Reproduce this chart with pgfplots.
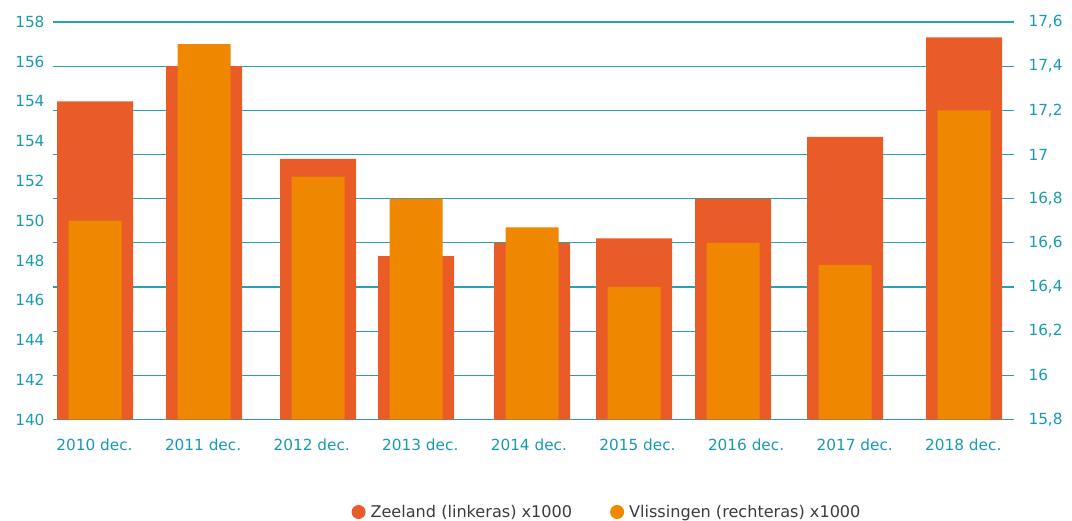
\documentclass[border=0pt]{standalone}
\usepackage{fontspec}
\setmainfont{DejaVu Sans}
\usepackage{pgfplots}
\pgfplotsset{compat=1.18}

\definecolor{zeel}{RGB}{233,91,39}
\definecolor{vlis}{RGB}{240,135,0}
\definecolor{tealtxt}{RGB}{24,154,176}
\definecolor{gridc}{RGB}{40,160,182}
\definecolor{legtxt}{RGB}{60,60,60}

% x positions: bar centres, as placed in the original (not evenly spaced)
\pgfplotstableread{
x     zee    vli
95    154.4  16.70
204   156.0  17.50
318   151.8  16.90
416   147.4  16.80
532   148.0  16.67
634   148.2  16.40
733   150.0  16.60
845   152.8  16.50
964   157.3  17.20
}\datatab

\pgfplotsset{
  base/.style={
    scale only axis, width=961bp, height=397.5bp,
    at={(53bp,101.5bp)}, anchor=south west,
    xmin=53, xmax=1014,
    axis line style={draw=none},
    major tick length=0pt,
    tick label style={font=\fontsize{15.3bp}{18bp}\selectfont, text=tealtxt},
    /pgf/number format/assume math mode=true,
  },
}

\begin{document}
\begin{tikzpicture}
\path[use as bounding box] (0,0) rectangle (1072bp,521bp);

% left axis: Zeeland
\begin{axis}[base,
  ymin=140, ymax=158,
  ytick={140,141.8,143.6,145.4,147.2,149,150.8,152.6,154.4,156.2,158},
  yticklabels={140,142,144,146,148,150,152,154,154,156,158},
  yticklabel style={xshift=-5bp},
  extra y ticks={140,142,144,146,148,150,152,154,156,158},
  extra y tick labels={},
  extra y tick style={grid=major, major grid style={draw=gridc, line width=1.1bp}},
  xtick={94.5,203.1,311.7,420.3,528.9,637.5,746.1,854.7,963.3},
  xticklabels={2010 dec.,2011 dec.,2012 dec.,2013 dec.,2014 dec.,2015 dec.,2016 dec.,2017 dec.,2018 dec.},
  xticklabel style={yshift=-16bp},
  legend columns=2,
  legend style={draw=none, fill=none, at={(0.5765,-0.2327)}, anchor=center,
    font=\fontsize{16.1bp}{19bp}\selectfont, text=legtxt,
    /tikz/every even column/.append style={column sep=36bp}},
  legend image code/.code={\fill (0bp,0bp) circle (7bp); \path (10bp,0bp);},
]
\addplot[ybar, bar width=76, bar shift=0, fill=zeel, draw=none, forget plot]
  table[x=x, y=zee] {\datatab};
\addlegendimage{fill=zeel, draw=none}
\addlegendentry{Zeeland (linkeras) x1000}
\addlegendimage{fill=vlis, draw=none}
\addlegendentry{Vlissingen (rechteras) x1000}
\end{axis}

% right axis: Vlissingen
\begin{axis}[base,
  ymin=15.8, ymax=17.6,
  axis y line*=right,
  axis x line=none,
  ytick={15.8,16,16.2,16.4,16.6,16.8,17,17.2,17.4,17.6},
  yticklabels={{15,8},{16},{16,2},{16,4},{16,6},{16,8},{17},{17,2},{17,4},{17,6}},
  yticklabel style={xshift=11bp},
]
\addplot[ybar, bar width=53, bar shift=0, fill=vlis, draw=none]
  table[x=x, y=vli] {\datatab};
\end{axis}
\end{tikzpicture}
\end{document}
